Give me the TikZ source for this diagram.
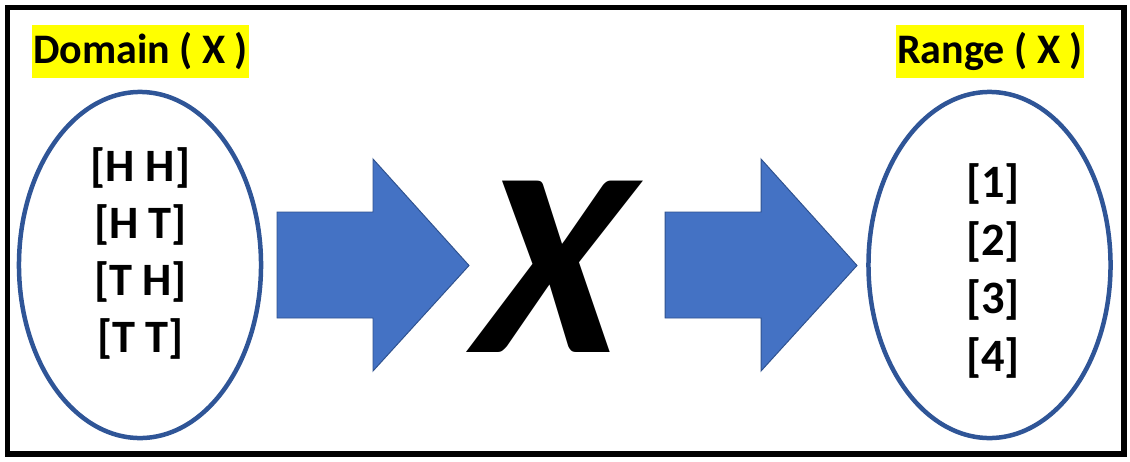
\documentclass[tikz,border=0pt]{standalone}
\usepackage{fontspec}
\setmainfont{Carlito}
\newfontfamily\mapfont[FakeSlant=0.2]{Carlito}
\usetikzlibrary{shapes.geometric,positioning}
\definecolor{arrowblue}{HTML}{4472C4}
\definecolor{arrowedge}{HTML}{2F528F}
\definecolor{ringblue}{HTML}{2F5597}
\definecolor{labelyellow}{HTML}{FFFF00}

\begin{document}
\begin{tikzpicture}[x=0.025cm,y=-0.025cm,font=\bfseries,
  setring/.style={draw=ringblue, line width=3.2pt, ellipse, minimum width=6.05cm, minimum height=8.65cm, inner sep=0pt},
  tag/.style={fill=labelyellow, minimum height=1.325cm, inner sep=0pt, font=\fontsize{29.9}{36}\selectfont\bfseries},
  item/.style={inner sep=0pt, font=\fontsize{33}{40}\selectfont\bfseries},
  fatarrow/.style={fill=arrowblue, draw=arrowedge, line width=0.7pt}]
\useasboundingbox (0,0) rectangle (1130,461);
\draw[line width=3.9pt] (7.5,7.5) rectangle (1124,454);
% labels on top
\node[tag, minimum width=5.43cm] (domlabel) at (140.5,51.5) {Domain ( X )};
\node[tag, minimum width=4.7cm] (rnglabel) at (990,51.5) {Range ( X )};
% the two sets
\node[setring] (domain) at (140,265) {};
\node[setring] (range) at (989.5,265) {};
\foreach \t [count=\i] in {{[H H]},{[H T]},{[T H]},{[T T]}} {
  \node[item] (dom\i) at (140.5,111+57*\i) {\t};
}
\foreach \t [count=\i] in {{[1]},{[2]},{[3]},{[4]}} {
  \node[item] (rng\i) at (993,126+58*\i) {\t};
}
% block arrows and the map
\foreach \s in {0,388} {
  \draw[fatarrow] (277+\s,212) -- (373+\s,212) -- (373+\s,159) -- (469+\s,265.5)
    -- (373+\s,371) -- (373+\s,318) -- (277+\s,318) -- cycle;
}
\node[inner sep=0pt, font=\fontsize{188}{188}\selectfont\mapfont\bfseries] (bigx) at (538,267) {X};
\end{tikzpicture}
\end{document}
